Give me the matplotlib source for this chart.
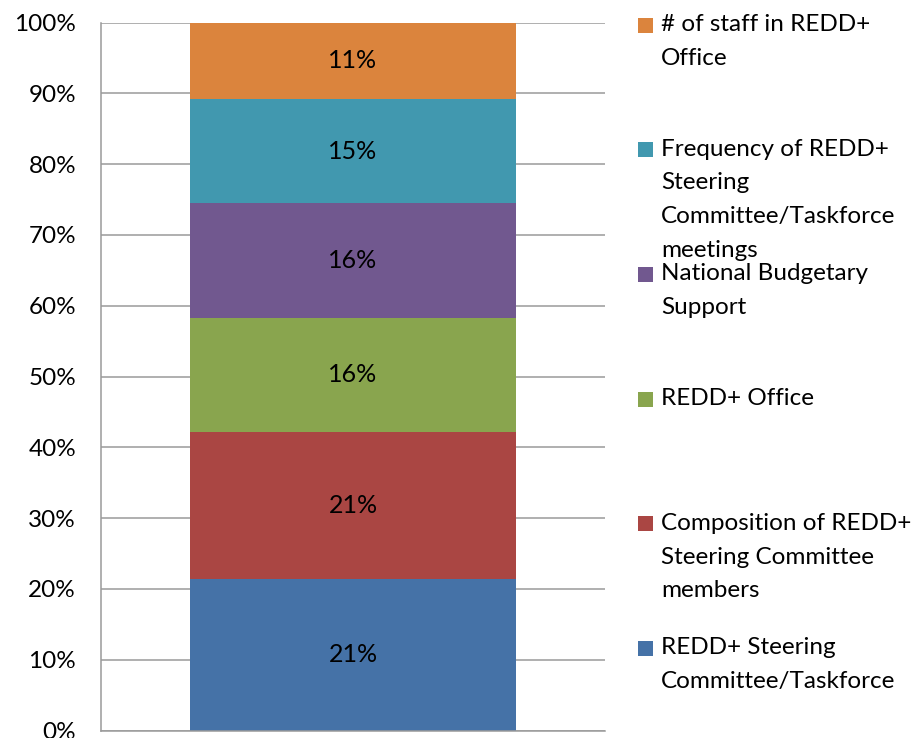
import matplotlib.pyplot as plt
from matplotlib.patches import Rectangle

# segments, bottom to top
categories = [
    "REDD+ Steering\nCommittee/Taskforce",
    "Composition of REDD+\nSteering Committee\nmembers",
    "REDD+ Office",
    "National Budgetary\nSupport",
    "Frequency of REDD+\nSteering\nCommittee/Taskforce\nmeetings",
    "# of staff in REDD+\nOffice",
]
shares = [21.4, 20.8, 16.1, 16.2, 14.7, 10.8]
value_labels = ["21%", "21%", "16%", "16%", "15%", "11%"]
colors = ["#4572A7", "#AA4643", "#89A54E", "#71588F", "#4198AF", "#DB843D"]
yticks = list(range(0, 101, 10))

plt.rcParams['font.family'] = ['Lato', 'DejaVu Sans']

fig = plt.figure(figsize=(9.16, 7.38), dpi=100)
ax = fig.add_axes([101 / 916, 1 - 730.5 / 738, 504 / 916, 708 / 738])

bottom = 0
for share, lab, col in zip(shares, value_labels, colors):
    ax.bar(0, share, bottom=bottom, width=0.645, color=col, zorder=2)
    ax.text(0, bottom + share / 2, lab, ha='center', va='center', fontsize=18, color='black', zorder=3)
    bottom += share

ax.set_xlim(-0.5, 0.5)
ax.set_ylim(0, 100)
ax.set_yticks(yticks)
ax.set_yticklabels([f"{t}%" for t in yticks], fontsize=17.5)
ax.set_xticks([])
ax.tick_params(axis='y', length=0, pad=18)
ax.yaxis.grid(True, color='#9a9a9a', linewidth=1.1, zorder=0)
ax.set_axisbelow(True)
for s in ['top', 'right']:
    ax.spines[s].set_visible(False)
for s in ['left', 'bottom']:
    ax.spines[s].set_color('#9a9a9a')
    ax.spines[s].set_linewidth(1.1)

# legend, top entry first, evenly spaced
step = 124.7
for i, (lab, col) in enumerate(zip(categories[::-1], colors[::-1])):
    yc = 25 + i * step
    fig.patches.append(Rectangle((638 / 916, 1 - (yc + 7.5) / 738), 15 / 916, 15 / 738,
                                 transform=fig.transFigure, facecolor=col, edgecolor='none'))
    fig.text(661 / 916, 1 - (yc - 11) / 738, lab, fontsize=17.5, va='top', ha='left',
             linespacing=1.75)

fig.savefig("out.png", dpi=100)
